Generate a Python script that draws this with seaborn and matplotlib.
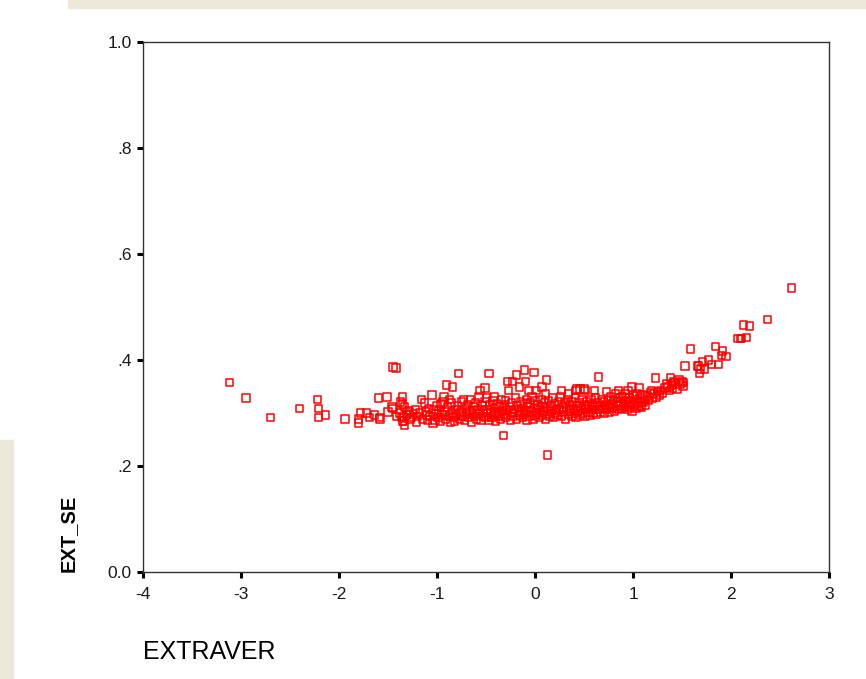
import matplotlib
matplotlib.use("Agg")
import matplotlib.pyplot as plt
import matplotlib.patches as mpatches
import numpy as np
import pandas as pd
import seaborn as sns

# ── data ─────────────────────────────────────────────────────────────────────
left_tail = [
    (-3.12, 0.357), (-2.95, 0.328), (-2.70, 0.291), (-2.40, 0.308), (-2.22, 0.326),
    (-2.21, 0.308), (-2.21, 0.291), (-2.14, 0.296), (-1.94, 0.289), (-1.80, 0.289),
    (-1.80, 0.281), (-1.78, 0.300), (-1.72, 0.300), (-1.69, 0.291), (-1.64, 0.296),
    (-1.60, 0.328), (-1.59, 0.291), (-1.58, 0.289), (-1.51, 0.330), (-1.50, 0.302),
    (-1.46, 0.311), (-1.45, 0.308), (-1.45, 0.387), (-1.42, 0.385), (-1.41, 0.294),
    (-1.37, 0.321), (-1.35, 0.330), (-1.35, 0.285), (-1.34, 0.294), (-1.33, 0.277),
]

core_a = [
    (-1.38, 0.300), (-1.36, 0.291), (-1.35, 0.317), (-1.34, 0.285), (-1.33, 0.311),
    (-1.31, 0.296), (-1.29, 0.305), (-1.28, 0.302), (-1.27, 0.288), (-1.26, 0.291),
    (-1.24, 0.298), (-1.22, 0.306), (-1.21, 0.283), (-1.20, 0.294), (-1.18, 0.300),
    (-1.16, 0.326), (-1.15, 0.289), (-1.13, 0.319), (-1.12, 0.302), (-1.11, 0.296),
    (-1.10, 0.287), (-1.09, 0.309), (-1.07, 0.293), (-1.05, 0.334), (-1.04, 0.281),
    (-1.03, 0.306), (-1.02, 0.287), (-1.01, 0.298), (-1.00, 0.313),
]

core_b = [
    (-0.99, 0.291), (-0.98, 0.304), (-0.97, 0.285), (-0.96, 0.317), (-0.95, 0.296),
    (-0.94, 0.321), (-0.93, 0.330), (-0.92, 0.302), (-0.91, 0.289), (-0.90, 0.353),
    (-0.89, 0.311), (-0.88, 0.294), (-0.87, 0.325), (-0.86, 0.283), (-0.85, 0.319),
    (-0.85, 0.300), (-0.84, 0.349), (-0.83, 0.291), (-0.82, 0.285), (-0.81, 0.306),
    (-0.80, 0.296), (-0.79, 0.313), (-0.78, 0.374), (-0.77, 0.289), (-0.76, 0.302),
    (-0.75, 0.321), (-0.74, 0.294), (-0.73, 0.325), (-0.72, 0.287), (-0.71, 0.309),
    (-0.70, 0.298), (-0.69, 0.315), (-0.68, 0.291), (-0.67, 0.304), (-0.66, 0.325),
    (-0.65, 0.283), (-0.64, 0.300), (-0.63, 0.311), (-0.62, 0.294), (-0.61, 0.319),
    (-0.60, 0.289), (-0.59, 0.306), (-0.58, 0.298), (-0.57, 0.330), (-0.56, 0.342),
    (-0.55, 0.287), (-0.54, 0.313), (-0.53, 0.302), (-0.52, 0.294), (-0.51, 0.347),
    (-0.51, 0.321), (-0.50, 0.291),
]

core_c = [
    (-0.49, 0.328), (-0.49, 0.306), (-0.48, 0.298), (-0.47, 0.374), (-0.47, 0.287),
    (-0.46, 0.315), (-0.45, 0.302), (-0.44, 0.291), (-0.43, 0.323), (-0.42, 0.330),
    (-0.42, 0.296), (-0.41, 0.309), (-0.40, 0.285), (-0.39, 0.317), (-0.38, 0.300),
    (-0.37, 0.294), (-0.36, 0.311), (-0.35, 0.289), (-0.34, 0.326), (-0.33, 0.304),
    (-0.32, 0.298), (-0.32, 0.257), (-0.31, 0.315), (-0.30, 0.323), (-0.30, 0.291),
    (-0.29, 0.306), (-0.28, 0.360), (-0.28, 0.296), (-0.27, 0.342), (-0.26, 0.311),
    (-0.25, 0.287), (-0.24, 0.319), (-0.23, 0.360), (-0.23, 0.300), (-0.22, 0.294),
    (-0.21, 0.306), (-0.20, 0.328), (-0.19, 0.372), (-0.19, 0.289), (-0.18, 0.313),
    (-0.17, 0.302), (-0.16, 0.349), (-0.16, 0.296), (-0.15, 0.321), (-0.14, 0.308),
    (-0.13, 0.291), (-0.12, 0.317), (-0.11, 0.381), (-0.11, 0.298), (-0.10, 0.360),
    (-0.10, 0.304), (-0.09, 0.325), (-0.08, 0.287), (-0.07, 0.311), (-0.06, 0.342),
    (-0.06, 0.294), (-0.05, 0.319), (-0.04, 0.302), (-0.03, 0.330), (-0.02, 0.289),
    (-0.01, 0.377), (-0.01, 0.308), (0.00, 0.296), (0.00, 0.323),
]

core_d = [
    (0.01, 0.342), (0.02, 0.300), (0.03, 0.315), (0.04, 0.291), (0.05, 0.306),
    (0.06, 0.326), (0.07, 0.349), (0.07, 0.296), (0.08, 0.311), (0.09, 0.302),
    (0.10, 0.319), (0.11, 0.336), (0.11, 0.289), (0.12, 0.362), (0.12, 0.308),
    (0.13, 0.221), (0.13, 0.298), (0.14, 0.323), (0.15, 0.294), (0.16, 0.313),
    (0.17, 0.304), (0.18, 0.328), (0.19, 0.291), (0.20, 0.317), (0.21, 0.300),
    (0.22, 0.309), (0.23, 0.296), (0.24, 0.321), (0.25, 0.306), (0.26, 0.330),
    (0.27, 0.343), (0.27, 0.294), (0.28, 0.311), (0.29, 0.302), (0.30, 0.319),
    (0.31, 0.289), (0.32, 0.308), (0.33, 0.326), (0.34, 0.336), (0.34, 0.298),
    (0.35, 0.315), (0.36, 0.304), (0.37, 0.294), (0.38, 0.321), (0.39, 0.309),
    (0.40, 0.300), (0.41, 0.328), (0.42, 0.343), (0.42, 0.291), (0.43, 0.345),
    (0.43, 0.313), (0.44, 0.304), (0.45, 0.319), (0.46, 0.345), (0.46, 0.296),
    (0.47, 0.308), (0.48, 0.326), (0.49, 0.300), (0.50, 0.345), (0.50, 0.315),
]

core_e = [
    (0.51, 0.343), (0.51, 0.294), (0.52, 0.309), (0.53, 0.321), (0.54, 0.302),
    (0.55, 0.313), (0.56, 0.296), (0.57, 0.325), (0.58, 0.306), (0.59, 0.317),
    (0.60, 0.300), (0.61, 0.343), (0.61, 0.311), (0.62, 0.328), (0.63, 0.298),
    (0.64, 0.319), (0.65, 0.368), (0.65, 0.306), (0.66, 0.313), (0.67, 0.302),
    (0.68, 0.326), (0.69, 0.309), (0.70, 0.321), (0.71, 0.300), (0.72, 0.315),
    (0.73, 0.340), (0.73, 0.306), (0.74, 0.323), (0.75, 0.311), (0.76, 0.302),
    (0.77, 0.330), (0.78, 0.317), (0.79, 0.308), (0.80, 0.325), (0.81, 0.304),
    (0.82, 0.336), (0.83, 0.313), (0.84, 0.321), (0.85, 0.342), (0.85, 0.306),
    (0.86, 0.328), (0.87, 0.315), (0.88, 0.309), (0.89, 0.330), (0.90, 0.319),
    (0.91, 0.311), (0.92, 0.336), (0.93, 0.323), (0.94, 0.306), (0.95, 0.343),
    (0.95, 0.315), (0.96, 0.328), (0.97, 0.311), (0.98, 0.321), (0.99, 0.349),
    (0.99, 0.304), (1.00, 0.332),
]

core_f = [
    (1.01, 0.315), (1.02, 0.326), (1.03, 0.309), (1.04, 0.336), (1.05, 0.319),
    (1.06, 0.347), (1.06, 0.313), (1.07, 0.328), (1.08, 0.321), (1.09, 0.311),
    (1.10, 0.334), (1.11, 0.321), (1.12, 0.326), (1.13, 0.315), (1.15, 0.332),
    (1.16, 0.323), (1.18, 0.338), (1.19, 0.343), (1.20, 0.328), (1.21, 0.336),
    (1.23, 0.366), (1.24, 0.330), (1.25, 0.340), (1.27, 0.334), (1.28, 0.343),
    (1.30, 0.338), (1.32, 0.347), (1.34, 0.355), (1.35, 0.349), (1.37, 0.343),
    (1.38, 0.366), (1.39, 0.353), (1.40, 0.347), (1.41, 0.360), (1.43, 0.357),
    (1.45, 0.345), (1.47, 0.362), (1.48, 0.355), (1.50, 0.360), (1.51, 0.358),
    (1.51, 0.351),
]

right_tail = [
    (1.53, 0.389), (1.59, 0.421), (1.66, 0.389), (1.67, 0.389), (1.68, 0.374),
    (1.69, 0.383), (1.71, 0.396), (1.73, 0.383), (1.77, 0.400), (1.80, 0.392),
    (1.84, 0.425), (1.87, 0.392), (1.90, 0.409), (1.91, 0.417), (1.95, 0.406),
    (2.07, 0.440), (2.10, 0.440), (2.11, 0.440), (2.13, 0.466), (2.16, 0.443),
    (2.19, 0.464), (2.37, 0.477), (2.62, 0.536),
]

x_ticks = [-4, -3, -2, -1, 0, 1, 2, 3]
y_ticks = [0.0, 0.2, 0.4, 0.6, 0.8, 1.0]
y_tick_labels = ["0.0", ".2", ".4", ".6", ".8", "1.0"]

pts = left_tail + core_a + core_b + core_c + core_d + core_e + core_f + right_tail
df = pd.DataFrame(pts, columns=["EXTRAVER", "EXT_SE"])

# ── plot ─────────────────────────────────────────────────────────────────────
sns.set_theme(style="ticks")
plt.rcParams["font.family"] = ["Liberation Sans", "DejaVu Sans"]

fig = plt.figure(figsize=(8.66, 6.79), dpi=100)
fig.patch.set_facecolor("white")

# window-chrome remnants from the screenshot
fig.patches.append(mpatches.Rectangle((68 / 866, 1 - 8 / 679), 1, 8 / 679,
                                      transform=fig.transFigure, color="#ECE9D8", zorder=0))
fig.patches.append(mpatches.Rectangle((0, 0), 13 / 866, 1 - 440 / 679,
                                      transform=fig.transFigure, color="#ECE9D8", zorder=0))

ax = fig.add_axes([143 / 866, 1 - 572 / 679, (829 - 143) / 866, (572 - 42) / 679])

sns.scatterplot(
    data=df, x="EXTRAVER", y="EXT_SE", ax=ax,
    marker="s", s=28, facecolor="none", edgecolor="#FF0000", linewidth=1.1,
    legend=False,
)

ax.set_xlim(-4, 3)
ax.set_ylim(0, 1)
ax.set_xticks(x_ticks)
ax.set_xticklabels([str(t) for t in x_ticks])
ax.set_yticks(y_ticks)
ax.set_yticklabels(y_tick_labels)
ax.tick_params(bottom=True, left=True, top=False, right=False,
               direction="out", length=4, width=2.2, color="black",
               labelsize=12.5, labelcolor="#1a1a1a")
ax.tick_params(axis="x", pad=7)
ax.tick_params(axis="y", pad=4)
for sp in ax.spines.values():
    sp.set_visible(True)
    sp.set_color("#333333")
    sp.set_linewidth(1.0)

ax.set_xlabel("")
ax.set_ylabel("")
fig.text(68 / 866, 1 - 572 / 679, "EXT_SE", rotation=90, ha="center", va="bottom",
         fontsize=14.5, fontweight="bold", color="black")
fig.text(143 / 866, 1 - 652 / 679, "EXTRAVER", ha="left", va="center",
         fontsize=18, color="black")

plt.savefig("out.png", dpi=100)
plt.close()
